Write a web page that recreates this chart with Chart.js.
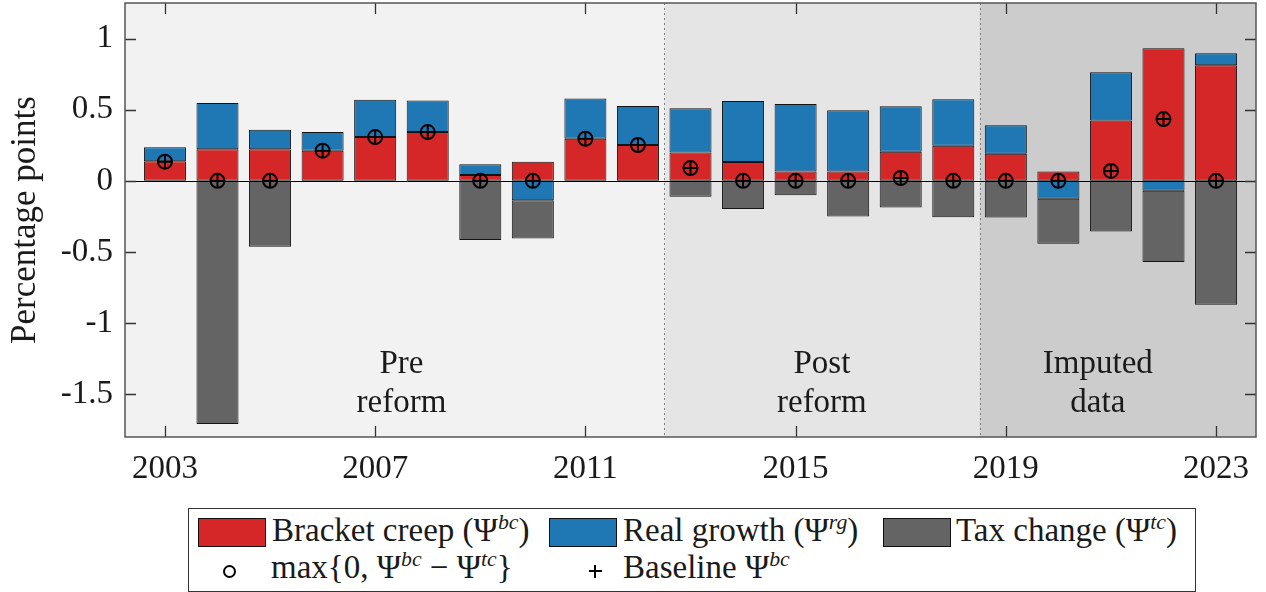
<!DOCTYPE html>
<html><head><meta charset="utf-8">
<script src="https://cdn.jsdelivr.net/npm/chart.js@4.4.1/dist/chart.umd.min.js"></script>
<style>
html,body{margin:0;padding:0;background:#fff;}
#wrap{position:relative;width:1266px;height:592px;overflow:hidden;}
#c{position:absolute;left:0;top:0;}
#legend{position:absolute;left:188px;top:508px;width:1008px;height:84px;border:1px solid #333;box-sizing:border-box;background:#fff;font-family:"Liberation Serif",serif;font-size:33px;color:#1a1a1a;}
.it{position:absolute;white-space:nowrap;line-height:1;}
.sw{position:absolute;width:68px;height:29px;border:1px solid #111;box-sizing:border-box;}
sup{font-size:0.66em;font-style:italic;vertical-align:0.55em;line-height:0;}
.circ{position:absolute;width:13px;height:13px;border:2px solid #000;border-radius:50%;box-sizing:border-box;}
.plus{position:absolute;width:13px;height:13px;}
.plus:before{content:"";position:absolute;left:5px;top:0;width:2.4px;height:13px;background:#000;}
.plus:after{content:"";position:absolute;left:0;top:5px;width:13px;height:2.4px;background:#000;}
</style>
</head><body>
<div id="wrap">
<canvas id="c" width="1266" height="592"></canvas>
<div id="legend">
  <div class="sw" style="left:9px;top:9px;background:#d62728"></div>
  <div class="it" style="left:83px;top:5px">Bracket creep (Ψ<sup>bc</sup>)</div>
  <div class="sw" style="left:360px;top:9px;background:#1f77b4"></div>
  <div class="it" style="left:434px;top:5px">Real growth (Ψ<sup>rg</sup>)</div>
  <div class="sw" style="left:694px;top:9px;background:#646464"></div>
  <div class="it" style="left:767px;top:5px">Tax change (Ψ<sup>tc</sup>)</div>
  <div class="circ" style="left:34px;top:56px"></div>
  <div class="it" style="left:82px;top:42px">max{0, Ψ<sup>bc</sup> − Ψ<sup>tc</sup>}</div>
  <div class="plus" style="left:400px;top:56px"></div>
  <div class="it" style="left:434px;top:42px">Baseline Ψ<sup>bc</sup></div>
</div>
</div>
<script>
const years = [2003,2004,2005,2006,2007,2008,2009,2010,2011,2012,2013,2014,2015,2016,2017,2018,2019,2020,2021,2022,2023];
const bracketCreep = [0.138,0.222,0.222,0.212,0.308,0.343,0.042,0.135,0.296,0.252,0.200,0.132,0.066,0.066,0.205,0.247,0.190,0.066,0.424,0.932,0.813];
const realGrowth   = [0.098,0.325,0.138,0.132,0.262,0.222,0.074,-0.136,0.283,0.275,0.311,0.430,0.475,0.431,0.320,0.327,0.200,-0.126,0.339,-0.070,0.084];
const taxChange    = [0,-1.709,-0.463,0,0,0,-0.416,-0.269,0,0,-0.112,-0.197,-0.101,-0.251,-0.187,-0.255,-0.257,-0.316,-0.356,-0.501,-0.870];
const maxNetCreep  = [0.135,0,0,0.212,0.308,0.343,0,0,0.296,0.252,0.090,0,0,0,0.020,0,0,0,0.070,0.434,0];
const baselineCreep= [0.135,0,0,0.212,0.308,0.343,0,0,0.296,0.252,0.090,0,0,0,0.020,0,0,0,0.070,0.434,0];
const xTicks = [2003,2007,2011,2015,2019,2023];
const yTicks = [-1.5,-1,-0.5,0,0.5,1];
const periodBreaks = [2012.5,2018.5];
const periodColors = ['#f2f2f2','#e5e5e5','#cccccc'];
const periodLabels = [['Pre','reform'],['Post','reform'],['Imputed','data']];
const periodLabelX = [2007.5,2015.5,2020.75];

const toXY = arr => arr.map((v,i)=>({x:years[i],y:v}));
const FONT = '"Liberation Serif", serif';

const bgPlugin = {
  id:'bg',
  beforeDatasetsDraw(chart){
    const {ctx, chartArea:a, scales:{x,y}} = chart;
    const edges = [x.min, ...periodBreaks, x.max];
    ctx.save();
    for(let i=0;i<3;i++){
      const l=x.getPixelForValue(edges[i]), r=x.getPixelForValue(edges[i+1]);
      ctx.fillStyle=periodColors[i];
      ctx.fillRect(l,a.top,r-l,a.bottom-a.top);
    }
    ctx.strokeStyle='#808080'; ctx.lineWidth=1; ctx.setLineDash([2,3]);
    periodBreaks.forEach(b=>{
      const px=Math.round(x.getPixelForValue(b))+0.5;
      ctx.beginPath(); ctx.moveTo(px,a.top); ctx.lineTo(px,a.bottom); ctx.stroke();
    });
    ctx.setLineDash([]);
    ctx.fillStyle='#1a1a1a'; ctx.font='33px '+FONT; ctx.textAlign='center'; ctx.textBaseline='alphabetic';
    periodLabels.forEach((lines,i)=>{
      const px=x.getPixelForValue(periodLabelX[i]);
      const py=y.getPixelForValue(-1.35);
      lines.forEach((t,j)=>ctx.fillText(t,px,py+j*39));
    });
    ctx.restore();
  }
};

const framePlugin = {
  id:'frame',
  afterDatasetsDraw(chart){
    const {ctx, chartArea:a, scales:{x,y}} = chart;
    ctx.save();
    const y0=Math.round(y.getPixelForValue(0))+0.5;
    ctx.strokeStyle='#000'; ctx.lineWidth=1;
    ctx.beginPath(); ctx.moveTo(a.left,y0); ctx.lineTo(a.right,y0); ctx.stroke();
    ctx.strokeStyle='#333'; ctx.lineWidth=1.3;
    xTicks.forEach(t=>{
      const px=Math.round(x.getPixelForValue(t))+0.5;
      ctx.beginPath();
      ctx.moveTo(px,a.bottom); ctx.lineTo(px,a.bottom-11);
      ctx.moveTo(px,a.top); ctx.lineTo(px,a.top+11);
      ctx.stroke();
    });
    yTicks.forEach(t=>{
      const py=Math.round(y.getPixelForValue(t))+0.5;
      ctx.beginPath();
      ctx.moveTo(a.left,py); ctx.lineTo(a.left+11,py);
      ctx.moveTo(a.right,py); ctx.lineTo(a.right-11,py);
      ctx.stroke();
    });
    ctx.strokeStyle='#555'; ctx.lineWidth=1.5;
    ctx.strokeRect(a.left,a.top,a.right-a.left,a.bottom-a.top);
    ctx.restore();
  }
};

new Chart(document.getElementById('c'), {
  type:'bar',
  data:{datasets:[
    {label:'Bracket creep', data:toXY(bracketCreep), backgroundColor:'#d62728', stack:'bars', order:2},
    {label:'Real growth', data:toXY(realGrowth), backgroundColor:'#1f77b4', stack:'bars', order:2},
    {label:'Tax change', data:toXY(taxChange), backgroundColor:'#646464', stack:'bars', order:2},
    {type:'scatter', label:'max{0, bc - tc}', data:toXY(maxNetCreep), stack:'m1', order:1,
      pointStyle:'circle', pointRadius:7, pointBorderWidth:2, pointBorderColor:'#000', pointBackgroundColor:'rgba(0,0,0,0)'},
    {type:'scatter', label:'Baseline bc', data:toXY(baselineCreep), stack:'m2', order:0,
      pointStyle:'cross', pointRadius:6.5, pointBorderWidth:2, pointBorderColor:'#000', pointBackgroundColor:'rgba(0,0,0,0)'}
  ]},
  options:{
    responsive:false, animation:false,
    layout:{autoPadding:false,padding:{top:3,right:10,left:0,bottom:0}},
    datasets:{bar:{barPercentage:1,categoryPercentage:0.8,borderColor:'#141414',borderWidth:1,borderSkipped:false}},
    plugins:{legend:{display:false},tooltip:{enabled:false}},
    scales:{
      x:{type:'linear',min:2002.24,max:2023.76,offset:false,
        grid:{display:false,drawTicks:false,offset:false},border:{display:false},
        afterBuildTicks:s=>{s.ticks=xTicks.map(v=>({value:v}));},
        afterFit:s=>{s.height=155;s.paddingLeft=0;s.paddingRight=0;},
        ticks:{padding:13,color:'#1a1a1a',font:{family:FONT,size:33},callback:v=>String(v),autoSkip:false,maxRotation:0}},
      y:{type:'linear',min:-1.8,max:1.25,stacked:true,
        grid:{display:false,drawTicks:false},border:{display:false},
        afterBuildTicks:s=>{s.ticks=yTicks.map(v=>({value:v}));},
        afterFit:s=>{s.width=125;s.paddingTop=0;s.paddingBottom=0;},
        ticks:{padding:12,color:'#1a1a1a',font:{family:FONT,size:33},callback:v=>String(v),autoSkip:false},
        title:{display:true,text:'Percentage points',color:'#1a1a1a',font:{family:FONT,size:35},padding:{top:5,bottom:0}}}
    }
  },
  plugins:[bgPlugin,framePlugin]
});
</script>
</body></html>
